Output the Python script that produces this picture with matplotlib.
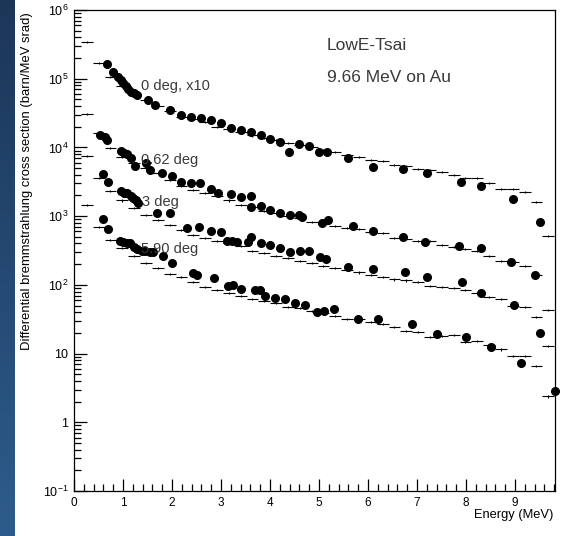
#! /usr/bin/env python3
import numpy as np
import matplotlib
matplotlib.use("Agg")
import matplotlib.pyplot as plt
from matplotlib.ticker import FixedLocator, FuncFormatter, MultipleLocator

plt.rcParams["font.family"] = ["Liberation Sans", "DejaVu Sans"]
plt.rcParams["mathtext.fontset"] = "custom"
plt.rcParams["mathtext.rm"] = "Liberation Sans"
plt.rcParams["mathtext.it"] = "Liberation Sans"

# model histogram bin edges (MeV)
bin_edges = np.linspace(0.14, 9.80, 41)

# model (LowE-Tsai) cross sections, one value per bin
model_0deg = [3.42e5, 1.69e5, 1.06e5, 7.83e4, 6.19e4, 4.90e4, 4.01e4, 3.39e4, 2.77e4, 2.59e4,
              2.34e4, 1.98e4, 1.85e4, 1.68e4, 1.51e4, 1.37e4, 1.28e4, 1.16e4, 1.08e4, 1.01e4,
              9.17e3, 8.57e3, 7.75e3, 7.25e3, 6.56e3, 6.34e3, 5.55e3, 5.36e3, 4.85e3, 4.69e3,
              4.39e3, 3.97e3, 3.59e3, 3.59e3, 3.03e3, 2.48e3, 2.48e3, 2.24e3, 1.60e3, 5.13e2]
model_062deg = [3.06e4, 1.62e4, 9.80e3, 7.25e3, 5.93e3, 5.01e3, 4.24e3, 3.35e3, 2.74e3, 2.40e3,
                2.17e3, 1.96e3, 1.71e3, 1.45e3, 1.36e3, 1.19e3, 1.11e3, 1.00e3, 9.38e2, 8.20e2,
                7.67e2, 7.18e2, 6.71e2, 6.49e2, 5.87e2, 5.68e2, 4.80e2, 4.64e2, 4.34e2, 4.34e2,
                3.79e2, 3.55e2, 3.32e2, 3.10e2, 2.62e2, 2.22e2, 2.15e2, 1.88e2, 1.39e2, 4.30e1]
model_3deg = [7.50e3, 3.59e3, 2.32e3, 1.71e3, 1.31e3, 1.04e3, 8.77e2, 7.42e2, 6.28e2, 5.31e2,
              4.80e2, 4.34e2, 4.06e2, 3.67e2, 3.10e2, 2.90e2, 2.62e2, 2.45e2, 2.22e2, 2.08e2,
              1.88e2, 1.76e2, 1.64e2, 1.53e2, 1.39e2, 1.30e2, 1.21e2, 1.17e2, 1.10e2, 9.61e1,
              9.29e1, 8.98e1, 8.40e1, 7.60e1, 6.64e1, 6.21e1, 4.91e1, 4.75e1, 3.40e1, 1.29e1]
model_590deg = [1.45e3, 6.94e2, 4.49e2, 3.43e2, 2.62e2, 2.08e2, 1.76e2, 1.44e2, 1.30e2, 1.10e2,
                9.29e1, 8.40e1, 7.60e1, 6.87e1, 6.21e1, 5.81e1, 5.43e1, 4.75e1, 4.59e1, 4.16e1,
                3.89e1, 3.52e1, 3.18e1, 3.18e1, 2.88e1, 2.69e1, 2.43e1, 2.13e1, 2.06e1, 1.74e1,
                1.80e1, 1.86e1, 1.47e1, 1.52e1, 1.33e1, 1.16e1, 9.20, 9.20, 6.58, 2.40]
model_rel_err = 0.045

# measured points: energy (MeV) and cross section
e_0deg = [0.68, 0.80, 0.90, 0.95, 1.00, 1.06, 1.10, 1.17, 1.22, 1.29, 1.50, 1.65, 1.96, 2.19,
          2.39, 2.59, 2.79, 3.00, 3.20, 3.40, 3.61, 3.81, 4.00, 4.20, 4.39, 4.60, 4.80, 4.99,
          5.16, 5.60, 6.10, 6.71, 7.21, 7.90, 8.31, 8.95, 9.51]
xs_0deg = [1.64e5, 1.25e5, 1.06e5, 9.58e4, 8.66e4, 7.83e4, 7.08e4, 6.40e4, 6.19e4, 5.79e4,
           4.90e4, 4.14e4, 3.50e4, 2.96e4, 2.77e4, 2.68e4, 2.51e4, 2.26e4, 1.92e4, 1.79e4,
           1.68e4, 1.51e4, 1.33e4, 1.20e4, 8.57e3, 1.12e4, 1.05e4, 8.57e3, 8.57e3, 7.01e3,
           5.19e3, 4.85e3, 4.24e3, 3.13e3, 2.74e3, 1.77e3, 8.20e2]

e_062deg = [0.53, 0.63, 0.67, 0.95, 1.02, 1.08, 1.16, 1.24, 1.47, 1.55, 1.80, 1.99, 2.19, 2.39,
            2.57, 2.79, 2.94, 3.20, 3.40, 3.61, 3.61, 3.81, 4.01, 4.20, 4.41, 4.60, 4.65, 5.06,
            5.19, 5.70, 6.10, 6.71, 7.16, 7.86, 8.31, 8.91, 9.41]
xs_062deg = [1.51e4, 1.42e4, 1.28e4, 8.87e3, 8.29e3, 8.02e3, 7.01e3, 5.36e3, 5.93e3, 4.69e3,
             4.24e3, 3.83e3, 3.13e3, 3.03e3, 3.03e3, 2.48e3, 2.17e3, 2.10e3, 1.90e3, 1.96e3,
             1.36e3, 1.40e3, 1.23e3, 1.11e3, 1.05e3, 1.04e3, 9.70e2, 8.01e2, 8.77e2, 7.18e2,
             6.13e2, 4.91e2, 4.27e2, 3.73e2, 3.49e2, 2.12e2, 1.39e2]

e_3deg = [0.59, 0.69, 0.95, 1.02, 1.09, 1.16, 1.21, 1.26, 1.31, 1.70, 1.96, 2.30, 2.55, 2.80,
          3.00, 3.12, 3.22, 3.32, 3.56, 3.61, 3.81, 4.01, 4.20, 4.41, 4.61, 4.80, 5.03, 5.14,
          5.60, 6.10, 6.76, 7.21, 7.91, 8.30, 8.97, 9.51]
xs_3deg = [4.10e3, 3.13e3, 2.32e3, 2.19e3, 2.15e3, 1.96e3, 1.82e3, 1.71e3, 1.57e3, 1.12e3,
           1.12e3, 6.64e2, 7.02e2, 6.07e2, 5.93e2, 4.38e2, 4.38e2, 4.24e2, 4.24e2, 5.01e2,
           4.10e2, 3.79e2, 3.40e2, 3.03e2, 3.10e2, 3.13e2, 2.51e2, 2.38e2, 1.84e2, 1.70e2,
           1.55e2, 1.31e2, 1.11e2, 7.52e1, 5.04e1, 2.01e1]

e_590deg = [0.59, 0.70, 0.94, 1.01, 1.08, 1.14, 1.22, 1.29, 1.38, 1.45, 1.55, 1.62, 1.82, 1.99,
            2.43, 2.51, 2.86, 3.15, 3.25, 3.40, 3.70, 3.80, 3.90, 4.10, 4.31, 4.51, 4.71, 4.95,
            5.10, 5.31, 5.80, 6.21, 6.90, 7.41, 8.00, 8.51, 9.12, 9.81]
xs_590deg = [9.08e2, 6.49e2, 4.41e2, 4.24e2, 4.10e2, 4.02e2, 3.52e2, 3.29e2, 3.13e2, 3.13e2,
             3.03e2, 3.03e2, 2.62e2, 2.08e2, 1.49e2, 1.41e2, 1.24e2, 9.61e1, 9.93e1, 8.60e1,
             8.40e1, 8.55e1, 6.87e1, 6.35e1, 6.15e1, 5.48e1, 5.08e1, 4.06e1, 4.16e1, 4.40e1,
             3.15e1, 3.18e1, 2.69e1, 1.92e1, 1.72e1, 1.26e1, 7.35, 2.88]

# curve labels (text, energy, cross section at baseline)
curve_labels = [("0 deg, x10", 1.37, 6.86e4), ("0.62 deg", 1.36, 5.73e3),
                ("3 deg", 1.39, 1.40e3), ("5.90 deg", 1.36, 2.90e2)]

# title block (text, energy, cross section at baseline)
title_lines = [("LowE-Tsai", 5.16, 2.62e5), ("9.66 MeV on Au", 5.16, 8.96e4)]


def y_label(v, pos):
    if v == 10:
        return "10"
    if v == 1:
        return "1"
    return r"$10^{%d}$" % int(round(np.log10(v)))


def draw_model(ax, vals):
    vals = np.array(vals)
    centers = 0.5 * (bin_edges[:-1] + bin_edges[1:])
    ax.hlines(vals, bin_edges[:-1], bin_edges[1:], colors="black", linewidth=0.8)
    ax.vlines(centers, vals * (1 - model_rel_err), vals * (1 + model_rel_err),
              colors="black", linewidth=0.8)


def main():
    fig = plt.figure(figsize=(5.66, 5.36), dpi=100)
    fig.patch.set_facecolor("white")

    # blue strip on the left edge
    strip = fig.add_axes([0, 0, 15 / 566, 1])
    grad = np.linspace(0, 1, 256).reshape(-1, 1)
    strip.imshow(grad, aspect="auto", cmap=matplotlib.colors.LinearSegmentedColormap.from_list(
        "strip", ["#1c3658", "#2d5c8c"]), origin="upper")
    strip.axis("off")

    ax = fig.add_axes([74 / 566, 1 - 491 / 536, 481 / 566, 481 / 536])
    ax.set_yscale("log")
    ax.set_xlim(0, 9.816)
    ax.set_ylim(0.1, 1e6)

    for vals in [model_0deg, model_062deg, model_3deg, model_590deg]:
        draw_model(ax, vals)

    for e, xs in [(e_0deg, xs_0deg), (e_062deg, xs_062deg),
                  (e_3deg, xs_3deg), (e_590deg, xs_590deg)]:
        ax.plot(e, xs, "o", color="black", markersize=5.5, clip_on=False, zorder=3)

    for txt, x, y in curve_labels:
        ax.text(x, y, txt, fontsize=10.5, color="#3a3a3a", va="baseline")

    for txt, x, y in title_lines:
        ax.text(x, y, txt, fontsize=12.5, color="#3a3a3a", va="baseline")

    # ticks pointing into the frame, ROOT style
    ax.xaxis.set_major_locator(MultipleLocator(1))
    ax.xaxis.set_minor_locator(MultipleLocator(0.2))
    ax.yaxis.set_major_locator(FixedLocator([10.0 ** k for k in range(-1, 7)]))
    ax.yaxis.set_major_formatter(FuncFormatter(y_label))
    ax.tick_params(which="both", direction="in", top=False, right=False,
                   width=0.9, colors="black")
    ax.tick_params(axis="x", labelsize=8.5)
    ax.tick_params(axis="y", labelsize=9)
    ax.tick_params(which="major", length=9, pad=4)
    ax.tick_params(which="minor", length=5)
    for s in ax.spines.values():
        s.set_linewidth(0.9)

    ax.set_xlabel("Energy (MeV)", fontsize=9.3)
    ax.xaxis.set_label_coords(0.996, -0.038)
    ax.xaxis.label.set_horizontalalignment("right")
    ax.set_ylabel("Differential bremmstrahlung cross section (barn/MeV srad)", fontsize=9.4)
    ax.yaxis.set_label_position("left")
    ax.yaxis.set_label_coords(-0.085, 0.644)

    fig.savefig("out.png", dpi=100)


if __name__ == "__main__":
    main()
